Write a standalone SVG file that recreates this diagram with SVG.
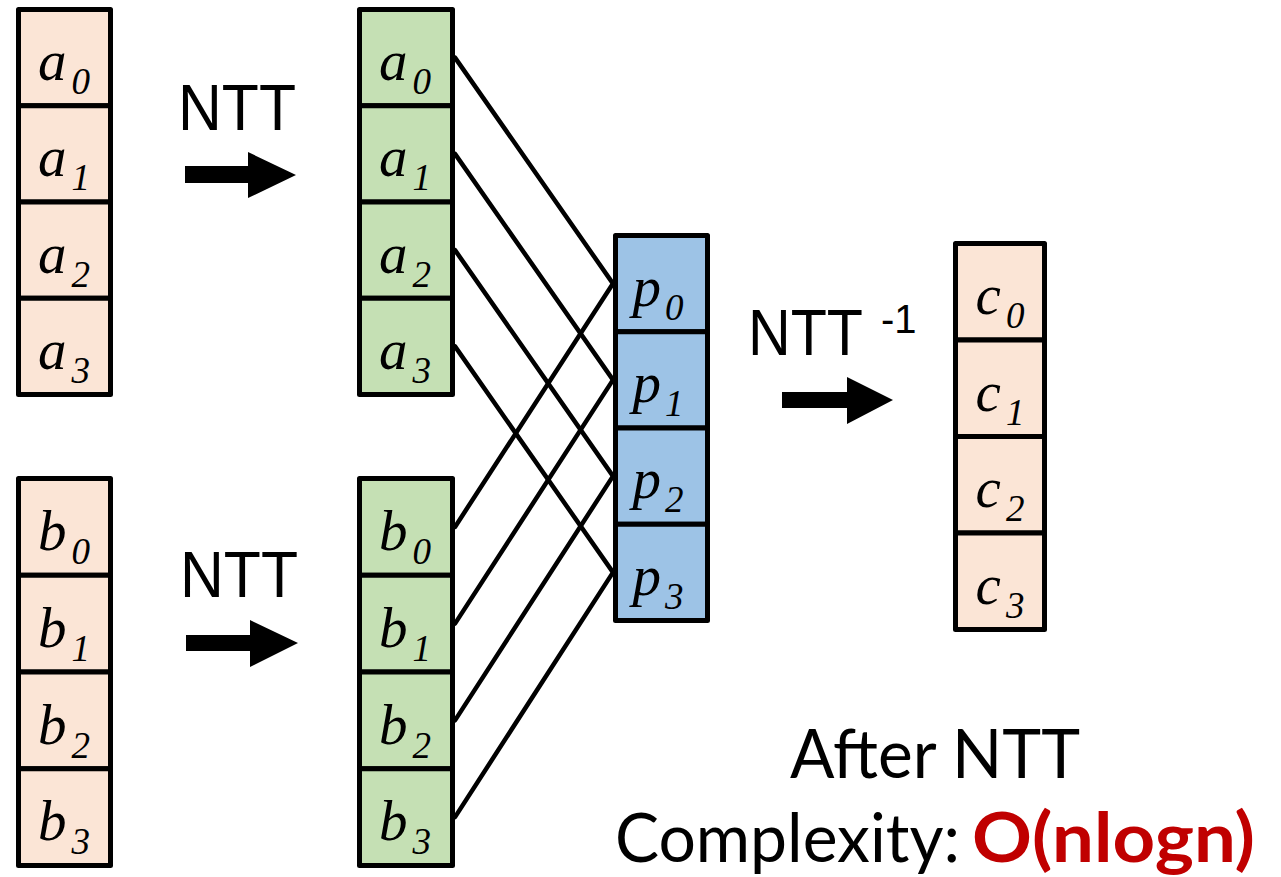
<svg xmlns="http://www.w3.org/2000/svg" width="1281" height="877" viewBox="0 0 1281 877">
<style>
.cell{stroke:#000;stroke-width:5;stroke-linejoin:round}
.peach{fill:#FBE5D6}
.green{fill:#C5E0B4}
.blue{fill:#9DC3E6}
.v{font-family:"Liberation Serif","Times New Roman",serif;font-style:italic;font-size:57px;fill:#000;text-anchor:middle}
.s{font-size:37px}
.lbl{font-family:"Liberation Sans",Arial,sans-serif;font-size:64px;fill:#000}
.sup{font-family:"Liberation Sans",Arial,sans-serif;font-size:40px;fill:#000}
.cx{font-family:Lato,"Open Sans",sans-serif;font-size:68px;fill:#000}
.red{fill:#C00000;font-weight:bold}
.conn line{stroke:#000;stroke-width:4.5;stroke-linecap:round}
.arrow{fill:#000}
</style>
<g id="col-a">
<rect class="cell peach" x="18.5" y="9.5" width="92" height="96.25"/>
<rect class="cell peach" x="18.5" y="105.75" width="92" height="96.25"/>
<rect class="cell peach" x="18.5" y="202" width="92" height="96.25"/>
<rect class="cell peach" x="18.5" y="298.25" width="92" height="96.25"/>
<text class="v" x="64" y="80">a<tspan class="s" dx="5" dy="14">0</tspan></text>
<text class="v" x="64" y="176">a<tspan class="s" dx="5" dy="14">1</tspan></text>
<text class="v" x="64" y="273">a<tspan class="s" dx="5" dy="14">2</tspan></text>
<text class="v" x="64" y="369">a<tspan class="s" dx="5" dy="14">3</tspan></text>
</g>
<g id="col-b">
<rect class="cell peach" x="18.5" y="478.5" width="92" height="96.75"/>
<rect class="cell peach" x="18.5" y="575.25" width="92" height="96.75"/>
<rect class="cell peach" x="18.5" y="672" width="92" height="96.75"/>
<rect class="cell peach" x="18.5" y="768.75" width="92" height="96.75"/>
<text class="v" x="64" y="550">b<tspan class="s" dx="5" dy="14">0</tspan></text>
<text class="v" x="64" y="647">b<tspan class="s" dx="5" dy="14">1</tspan></text>
<text class="v" x="64" y="744">b<tspan class="s" dx="5" dy="14">2</tspan></text>
<text class="v" x="64" y="840">b<tspan class="s" dx="5" dy="14">3</tspan></text>
</g>
<g id="ntt-a">
<text class="lbl" x="178" y="130" textLength="118" lengthAdjust="spacingAndGlyphs">NTT</text>
<polygon class="arrow" points="185,166 248,166 248,152 296,175 248,198 248,183 185,183"/>
</g>
<g id="ntt-b">
<text class="lbl" x="180" y="597" textLength="118" lengthAdjust="spacingAndGlyphs">NTT</text>
<polygon class="arrow" points="186,635 250,635 250,620 298,643 250,667 250,651 186,651"/>
</g>
<g id="col-na">
<rect class="cell green" x="359.5" y="9.5" width="93" height="96.25"/>
<rect class="cell green" x="359.5" y="105.75" width="93" height="96.25"/>
<rect class="cell green" x="359.5" y="202" width="93" height="96.25"/>
<rect class="cell green" x="359.5" y="298.25" width="93" height="96.25"/>
<text class="v" x="405" y="80">a<tspan class="s" dx="5" dy="14">0</tspan></text>
<text class="v" x="405" y="176">a<tspan class="s" dx="5" dy="14">1</tspan></text>
<text class="v" x="405" y="273">a<tspan class="s" dx="5" dy="14">2</tspan></text>
<text class="v" x="405" y="369">a<tspan class="s" dx="5" dy="14">3</tspan></text>
</g>
<g id="col-nb">
<rect class="cell green" x="359.5" y="478.5" width="93" height="96.75"/>
<rect class="cell green" x="359.5" y="575.25" width="93" height="96.75"/>
<rect class="cell green" x="359.5" y="672" width="93" height="96.75"/>
<rect class="cell green" x="359.5" y="768.75" width="93" height="96.75"/>
<text class="v" x="405" y="550">b<tspan class="s" dx="5" dy="14">0</tspan></text>
<text class="v" x="405" y="647">b<tspan class="s" dx="5" dy="14">1</tspan></text>
<text class="v" x="405" y="744">b<tspan class="s" dx="5" dy="14">2</tspan></text>
<text class="v" x="405" y="840">b<tspan class="s" dx="5" dy="14">3</tspan></text>
</g>
<g id="connectors" class="conn">
<line x1="455" y1="57.6" x2="613" y2="283.6"/>
<line x1="455" y1="153.9" x2="613" y2="379.9"/>
<line x1="455" y1="250.1" x2="613" y2="476.1"/>
<line x1="455" y1="346.4" x2="613" y2="572.4"/>
<line x1="455" y1="526.9" x2="613" y2="283.6"/>
<line x1="455" y1="623.6" x2="613" y2="379.9"/>
<line x1="455" y1="720.4" x2="613" y2="476.1"/>
<line x1="455" y1="817.1" x2="613" y2="572.4"/>
</g>
<g id="col-p">
<rect class="cell blue" x="615.5" y="235.5" width="92" height="96.25"/>
<rect class="cell blue" x="615.5" y="331.75" width="92" height="96.25"/>
<rect class="cell blue" x="615.5" y="428" width="92" height="96.25"/>
<rect class="cell blue" x="615.5" y="524.25" width="92" height="96.25"/>
<text class="v" x="658" y="306">p<tspan class="s" dx="4" dy="14">0</tspan></text>
<text class="v" x="658" y="402">p<tspan class="s" dx="4" dy="14">1</tspan></text>
<text class="v" x="658" y="498">p<tspan class="s" dx="4" dy="14">2</tspan></text>
<text class="v" x="658" y="595">p<tspan class="s" dx="4" dy="14">3</tspan></text>
</g>
<g id="intt">
<text class="lbl" x="748" y="355" textLength="115" lengthAdjust="spacingAndGlyphs">NTT</text>
<text class="sup" x="881" y="333">-1</text>
<polygon class="arrow" points="782,392 847,392 847,377 893,400 847,424 847,408 782,408"/>
</g>
<g id="col-c">
<rect class="cell peach" x="955.5" y="243.5" width="89" height="96.5"/>
<rect class="cell peach" x="955.5" y="340" width="89" height="96.5"/>
<rect class="cell peach" x="955.5" y="436.5" width="89" height="96.5"/>
<rect class="cell peach" x="955.5" y="533" width="89" height="96.5"/>
<text class="v" x="1000" y="314">c<tspan class="s" dx="5" dy="14">0</tspan></text>
<text class="v" x="1000" y="411">c<tspan class="s" dx="5" dy="14">1</tspan></text>
<text class="v" x="1000" y="507">c<tspan class="s" dx="5" dy="14">2</tspan></text>
<text class="v" x="1000" y="604">c<tspan class="s" dx="5" dy="14">3</tspan></text>
</g>
<g id="complexity">
<text class="cx" x="790" y="778" textLength="290" lengthAdjust="spacingAndGlyphs">After NTT</text>
<text class="cx" x="615" y="862" textLength="345" lengthAdjust="spacingAndGlyphs">Complexity:</text>
<text class="cx red" x="972" y="862" textLength="283" lengthAdjust="spacingAndGlyphs">O(nlogn)</text>
</g>
</svg>
